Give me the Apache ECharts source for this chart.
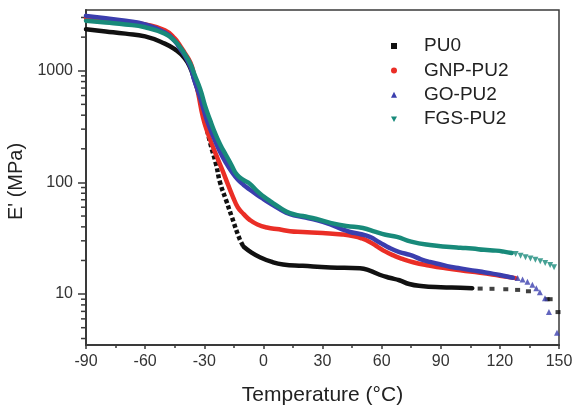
<!DOCTYPE html>
<html><head><meta charset="utf-8">
<script src="https://cdn.jsdelivr.net/npm/echarts@6/dist/echarts.min.js"></script>
<style>html,body{margin:0;padding:0;background:#fff}#c{width:577px;height:405px}</style>
</head><body><div id="c"></div>
<script>
// ---- data ----
const xTicks = [-90, -60, -30, 0, 30, 60, 90, 120, 150];
const yTickLabels = [10, 100, 1000];
const yMinorTicks = [4,5,6,7,8,9,20,30,40,50,60,70,80,90,200,300,400,500,600,700,800,900,2000,3000];

const pu0T = [-90,-80,-70,-60,-50,-45,-40,-37,-35,-32,-30,-27,-24,-22,-19,-16,-12,-10,-6,-2,4,10,20,34,49,54,59,64,69,74,80,90,100,106];
const pu0E = [2350,2250,2150,2030,1750,1560,1300,1050,830,560,380,226,145,100,70,49,31,26.5,23.5,21.5,19.5,18.4,17.9,17.3,17.0,16.2,14.9,14.0,13.3,12.3,11.8,11.5,11.4,11.3];
const pu0TailT = [110,116,123,129,134.5,144,145.5,149.5];
const pu0TailE = [11.2,11.15,11.05,10.9,10.6,9.0,9.0,6.9];

const gnpT = [-90,-80,-70,-60,-50,-45,-42,-40,-37,-35,-33,-30.6,-28,-25.6,-23,-20.5,-18,-15.4,-13,-10,-6.8,-3,1.8,8,13.5,20,30,40,46,50,54,58,62,66,70,76,84,90,100,110,120,128];
const gnpE = [2950,2850,2750,2600,2300,1950,1650,1450,1180,900,620,380,270,208,160,125,96,74,60,52,46,42,39.5,38,36.6,36,35.2,34.2,33,31.5,29.3,26.5,24,22.2,20.8,19.3,18,17.3,16.3,15.5,14.6,13.9];

const goT = [-90,-80,-70,-60,-50,-45,-42,-40,-37,-35,-32,-30,-28,-25,-22,-19,-16,-13,-10,-6.8,-3,0,3.4,8,13.5,20,27,34,40,44,49,54,59,64.2,69,74.4,80,84.5,90,94.7,100,106,110,115,120,126.6];
const goE = [3100,2950,2800,2600,2200,1850,1550,1380,1080,820,570,430,335,248,188,150,124,106,95,86,77,71,65,58,52,49,46,42,38,36,34.5,32.5,29,25.8,23.8,22.4,20.5,19.4,18.4,17.6,17,16.3,15.9,15.4,14.8,14.0];
const goTailT = [129,131.5,134,136.5,138.5,140.3,142.9,144.9,149];
const goTailE = [13.9,13.5,12.9,12.1,11.3,10.4,9.2,6.9,4.5];

const fgsT = [-90,-80,-70,-60,-50,-45,-42,-40,-37,-35,-32,-29.5,-27,-25,-22,-19,-16,-13.4,-10,-6.8,-3,0,3.4,8,13.5,20,27,34,42,50.5,57,62,67.8,75,84.5,94.7,100,106,112,118,122,126];
const fgsE = [2800,2700,2600,2450,2150,1850,1600,1420,1150,930,680,480,360,290,220,176,141,117,105,97,83,75,68,60,53,50,47,43.4,40.7,39.1,36,34,32.5,29.5,27.5,26.4,26,25.6,24.9,24.5,24,23.3];
const fgsTailT = [128,130.5,133,135.5,138,140.5,143,145.5,147.5];
const fgsTailE = [22.8,22.0,21.4,20.8,20.3,19.7,19.0,18.2,17.4];

const names = ['PU0', 'GNP-PU2', 'GO-PU2', 'FGS-PU2'];
const colors = ['#111111', '#ea2e26', '#3b3eae', '#188a7a'];

// ---- build ----
const pairs = (T, E) => T.map((t, i) => [t, E[i]]);
const lineS = (name, color, data, z, type) => ({
  name, type: 'line', data, smooth: 0.5,
  showSymbol: false, symbol: 'none', color, z,
  lineStyle: { width: 4.5, color, join: 'round', cap: type ? 'butt' : 'round', type: type || 'solid' }
});
const tailS = (name, color, T, E, symbol, size, rot, z) => ({
  name, type: 'scatter', data: pairs(T, E), symbol, symbolSize: size,
  symbolRotate: rot, color, z, itemStyle: { color }
});

// PU0: the steep transition is drawn as separate points in the reference -> dashed segment
const pu0All = pairs(pu0T, pu0E);
const iA = pu0T.indexOf(-30), iB = pu0T.indexOf(-10);
const pu0Upper = pu0All.slice(0, iA + 1);
const pu0Steep = pu0All.slice(iA, iB + 1);
const pu0Lower = pu0All.slice(iB);

const chart = echarts.init(document.getElementById('c'), null, { renderer: 'canvas' });
chart.setOption({
  animation: false,
  backgroundColor: '#fff',
  grid: { left: 86, right: 18, top: 10, bottom: 60, containLabel: false, outerBoundsMode: 'none',
          show: true, borderColor: '#3a3a3a', borderWidth: 1.5 },
  legend: {
    orient: 'vertical', left: 386, top: 31, itemWidth: 6, itemHeight: 6, itemGap: 4.4,
    textStyle: { fontFamily: 'Liberation Sans', fontSize: 19, color: '#222', lineHeight: 20, padding: [0, 0, 0, 22] },
    data: [
      { name: names[0], icon: 'rect' },
      { name: names[1], icon: 'circle' },
      { name: names[2], icon: 'triangle' },
      { name: names[3], icon: 'path://M0,0L10,0L5,9Z' }
    ]
  },
  xAxis: {
    type: 'value', min: xTicks[0], max: xTicks[xTicks.length - 1], interval: 30,
    name: 'Temperature (°C)', nameLocation: 'middle', nameGap: 40,
    nameTextStyle: { fontFamily: 'Liberation Sans', fontSize: 21, color: '#222' },
    axisLine: { onZero: false, lineStyle: { color: '#3a3a3a', width: 2 } },
    axisTick: { length: 4, lineStyle: { color: '#3a3a3a', width: 1.5 } },
    minorTick: { show: true, splitNumber: 2, length: 3, lineStyle: { color: '#3a3a3a', width: 1.5 } },
    axisLabel: { fontFamily: 'Liberation Sans', fontSize: 16, color: '#333', margin: 9 },
    splitLine: { show: false }
  },
  yAxis: {
    type: 'log', logBase: 10, min: 3.5, max: 3500,
    name: "E' (MPa)", nameLocation: 'middle', nameGap: 50,
    nameTextStyle: { fontFamily: 'Liberation Sans', fontSize: 20, color: '#222', padding: [0, 0, 0, -8] },
    axisLine: { show: true, onZero: false, lineStyle: { color: '#3a3a3a', width: 2 } },
    axisTick: { show: true, length: 8, lineStyle: { color: '#3a3a3a', width: 1.5 } },
    axisLabel: { fontFamily: 'Liberation Sans', fontSize: 16, color: '#333', margin: 13,
                 showMinLabel: false, showMaxLabel: false,
                 formatter: v => (yTickLabels.indexOf(Math.round(v)) >= 0 ? String(Math.round(v)) : '') },
    splitLine: { show: false }
  },
  series: [
    {
      type: 'custom', silent: true, clip: false, z: 1,
      data: yMinorTicks.map(v => [xTicks[0], v]),
      renderItem: (params, api) => {
        const p = api.coord([api.value(0), api.value(1)]);
        return { type: 'line', shape: { x1: p[0] - 5, y1: p[1], x2: p[0], y2: p[1] },
                 style: { stroke: '#3a3a3a', lineWidth: 1.5 } };
      }
    },
    lineS(names[0], colors[0], pu0Upper, 2),
    lineS(names[0], colors[0], pu0Steep, 2, [4, 2.5]),
    lineS(names[0], colors[0], pu0Lower, 2),
    tailS(names[0], colors[0], pu0TailT, pu0TailE, 'rect', [5, 4], 0, 2),
    lineS(names[1], colors[1], pairs(gnpT, gnpE), 3),
    lineS(names[2], colors[2], pairs(goT, goE), 4),
    tailS(names[2], colors[2], goTailT, goTailE, 'triangle', 6, 0, 4),
    lineS(names[3], colors[3], pairs(fgsT, fgsE), 5),
    tailS(names[3], colors[3], fgsTailT, fgsTailE, 'triangle', 6, 180, 5)
  ]
});
</script></body></html>
